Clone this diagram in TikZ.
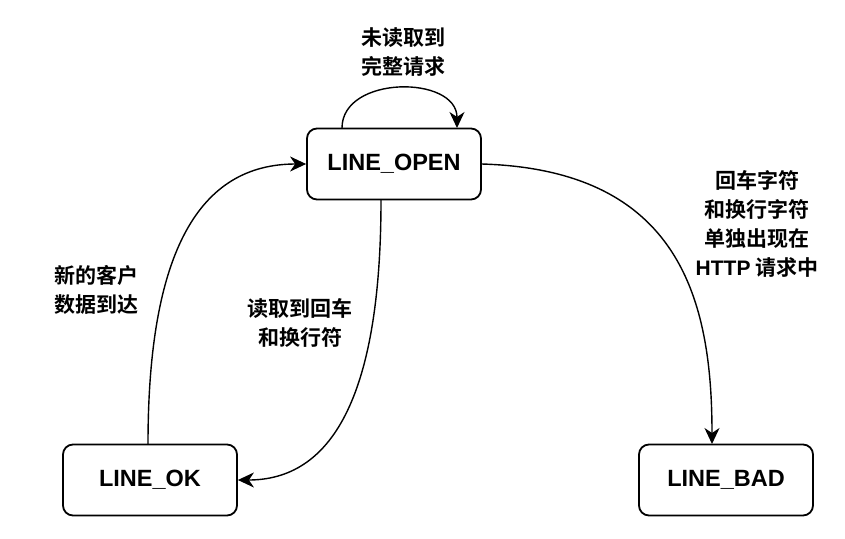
\documentclass[tikz,border=0pt]{standalone}
\usepackage{fontspec}
\setmainfont{Liberation Sans}
\newfontfamily\cjk{Noto Sans CJK SC Bold}
\usetikzlibrary{arrows.meta}
\begin{document}
\begin{tikzpicture}[x=1pt,y=-1pt,
  state/.style={draw,line width=1.8pt,rounded corners=10pt,minimum width=174pt,minimum height=71pt,inner sep=0pt,
    font=\fontsize{23.5}{28}\selectfont\bfseries},
  lbl/.style={align=center,font=\fontsize{21}{29}\selectfont\cjk},
  conn/.style={line width=1.4pt,-{Stealth[length=16pt,width=15pt,inset=5pt]}}]
\useasboundingbox (0,0) rectangle (845,538);
\node[state] (open) at (394,164) {LINE\_OPEN};
\node[state] (ok) at (150,480) {LINE\_OK};
\node[state] (bad) at (726,480) {LINE\_BAD};
\coordinate (o1) at (342,128);
\coordinate (o2) at (457,128);
\draw[conn] (o1) .. controls (342,75) and (457,75) .. (o2);
\coordinate (okt) at (148,444);
\draw[conn] (okt) .. controls (148,250) and (200,164) .. (open.west);
\coordinate (ob) at (381,200);
\draw[conn] (ob) .. controls (381,400) and (330,480) .. (ok.east);
\coordinate (bt) at (712,444);
\draw[conn] (open.east) .. controls (680,170) and (712,300) .. (bt);
\node[lbl] (l1) at (403,52) {未读取到\\完整请求};
\node[lbl] (l2) at (96,290) {新的客户\\数据到达};
\node[lbl] (l3) at (300,323) {读取到回车\\和换行符};
\node[lbl] (l4) at (757,224) {回车字符\\和换行字符\\单独出现在\\{\fontspec{Liberation Sans Bold}HTTP} 请求中};
\end{tikzpicture}
\end{document}
